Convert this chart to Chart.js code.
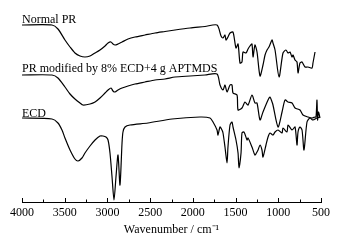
<!DOCTYPE html>
<html>
<head>
<meta charset="utf-8">
<script src="https://cdn.jsdelivr.net/npm/chart.js@4/dist/chart.umd.min.js"></script>
<style>
html,body{margin:0;padding:0;background:#fff;}
canvas{display:block;}
</style>
</head>
<body>
<canvas id="c" width="344" height="243"></canvas>
<script>
// Wavenumber (cm^-1) and relative transmittance (arbitrary units, curves offset)
const normalWn = [4000,3649,3579,3497,3438,3380,3321,3263,3204,3145,3087,3028,2993,2958,2935,2911,2876,2829,2759,2677,2560,2443,2326,2209,2033,1858,1717,1670,1647,1624,1612,1589,1565,1530,1495,1471,1448,1425,1413,1378,1354,1331,1308,1296,1273,1249,1214,1179,1155,1132,1109,1073,1062,1038,991,945,910,886,863,839,828,804,781,769,746,722,687,652,605,594,570];
const normalT  = [177,177,173,162,155,149,146,145,146,149,152,156,159,160,158,157,158,160,163,165,167,169,170.5,172,174,175.5,177,166,164,167,162,165,169,170,154,158,139,140,150,149,153,156,158,145,157,150,126,137,147,152,155,162,159,152,125,149,152,149,150,145,147,142,140,129,139,140,135,135,134,139,150];

const modWn = [4000,3649,3579,3497,3438,3380,3321,3286,3204,3145,3087,3028,2993,2958,2935,2911,2876,2829,2759,2677,2560,2443,2326,2209,2033,1858,1717,1682,1647,1624,1600,1565,1542,1530,1483,1471,1425,1390,1354,1308,1273,1249,1214,1179,1120,1097,1073,1062,1003,956,921,886,839,804,746,711,652,605,570,558,547,540,530,512];
const modT  = [127,127,124,115,108,103,99,97,98,100,104,109,112,114,111,110,112,114,116,118,120,122,123,125,126,127,128,117,112,117,110,117,117,109,107,92,94,100,97,107,99,99,82,90,102,105,100,97,75,90,102,100,99,94,92,87,85,84,85,85,102,82,90,84];

const ecdWn = [4000,3649,3579,3532,3497,3438,3380,3344,3298,3263,3204,3145,3087,3052,3017,2993,2970,2946,2923,2900,2876,2853,2829,2818,2794,2736,2525,2244,1916,1799,1764,1717,1706,1682,1659,1647,1624,1600,1589,1565,1542,1530,1495,1471,1460,1436,1425,1401,1366,1354,1308,1273,1249,1237,1214,1191,1179,1144,1120,1097,1062,1038,1003,956,945,898,886,839,804,781,769,746,722,699,664,629,594,547,512];
const ecdT  = [84,83,79,72,64,52,43,41,44,49,56,62,66,66,65,62,49,25,2,25,47,17,59,70,75,77,79,83,85,84,80,72,67,75,72,69,55,39,55,77,80,75,62,49,34,49,69,70,62,64,55,47,50,52,57,52,45,57,65,69,67,70,72,69,74,70,77,72,75,57,70,75,72,52,80,84,82,84,85];

const seriesNames = ["Normal PR", "PR modified by 8% ECD+4 g APTMDS", "ECD"];
const xTicks = [4000,3500,3000,2500,2000,1500,1000,500];
const xTitle = "Wavenumber / cm\u207B\u00B9";

function toXY(xs, ys){ return xs.map((x,i)=>({x:x, y:ys[i]})); }

const FONT = "'Liberation Serif','Times New Roman',serif";

const extras = {
  id: 'extras',
  afterDraw(chart, args, opts){
    const ctx = chart.ctx, xs = chart.scales.x, ys = chart.scales.y;
    const bottom = chart.chartArea.bottom;
    ctx.save();
    ctx.strokeStyle = '#000';
    ctx.lineWidth = 1;
    for (let v = 500; v <= 4000; v += 250){
      const px = Math.round(xs.getPixelForValue(v)) + 0.5;
      const len = (v % 500 === 0) ? 4 : 2.5;
      ctx.beginPath();
      ctx.moveTo(px, bottom);
      ctx.lineTo(px, bottom - len);
      ctx.stroke();
    }
    ctx.fillStyle = '#000';
    ctx.font = '12px ' + FONT;
    ctx.textBaseline = 'alphabetic';
    ctx.textAlign = 'left';
    opts.labels.forEach((l, i) => {
      ctx.fillText(seriesNames[i], xs.getPixelForValue(l[0]), ys.getPixelForValue(l[1]));
    });
    ctx.restore();
  }
};

new Chart(document.getElementById('c'), {
  type: 'scatter',
  data: {
    datasets: [
      {label: seriesNames[0], data: toXY(normalWn, normalT)},
      {label: seriesNames[1], data: toXY(modWn, modT)},
      {label: seriesNames[2], data: toXY(ecdWn, ecdT)}
    ].map(d => Object.assign(d, {showLine:true, borderColor:'#000', borderWidth:1.2, pointRadius:0, tension:0.25, fill:false}))
  },
  options: {
    responsive: false,
    animation: false,
    devicePixelRatio: 1,
    layout: {padding: {left: 22, right: 23, top: 0, bottom: 0}},
    plugins: {
      legend: {display: false},
      tooltip: {enabled: false},
      extras: {labels: [[4000, 179.5], [4000, 130.5], [4000, 85.5]]}
    },
    scales: {
      x: {
        type: 'linear', reverse: true, min: 500, max: 4000,
        afterBuildTicks: s => { s.ticks = xTicks.map(v => ({value: v})); },
        afterFit: s => { s.height = 41; },
        grid: {display: false, drawTicks: false},
        border: {display: true, color: '#000', width: 1},
        ticks: {color: '#000', padding: 4, maxRotation: 0, autoSkip: false, font: {family: FONT, size: 12},
                callback: v => String(v)},
        title: {display: true, text: xTitle, color: '#000', font: {family: FONT, size: 12}, padding: {top: 2, bottom: 6}}
      },
      y: {display: false, min: 0, max: 202}
    }
  },
  plugins: [extras]
});
</script>
</body>
</html>
